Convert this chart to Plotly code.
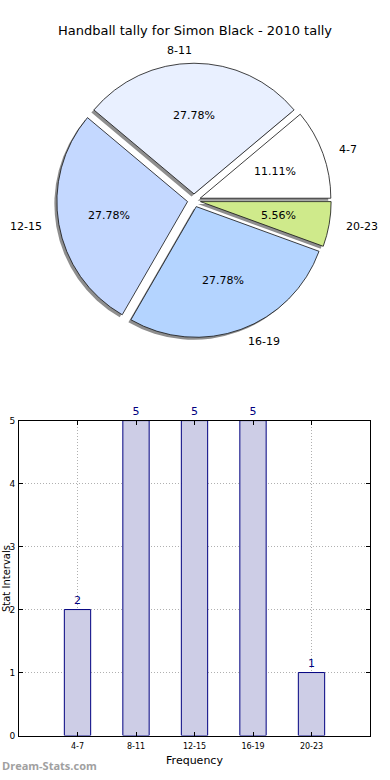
import math
import plotly.graph_objects as go

W, H = 390, 780
FONT = "DejaVu Sans"

chart_title = "Handball tally for Simon Black - 2010 tally"
categories = ["4-7", "8-11", "12-15", "16-19", "20-23"]
counts = [2, 5, 5, 5, 1]
slice_colors = ["#ffffff", "#e9f0ff", "#c4d8ff", "#b4d4ff", "#cfea8b"]
explode = 0.05
x_title = "Frequency"
y_title = "Stat Intervals"
watermark = "Dream-Stats.com"


def px_x(x):
    return x / W


def px_y(y):
    return 1 - y / H


# pie geometry in window pixels (centre and total radius including pull)
PCX, PCY, PR = 194, 198, 139
SHADOW_DX, SHADOW_DY = -2.5, 2.5


def pie_domain(dx=0.0, dy=0.0):
    cx, cy = PCX + dx, PCY + dy
    return dict(x=[px_x(cx - PR), px_x(cx + PR)], y=[px_y(cy + PR), px_y(cy - PR)])


total = sum(counts)
# plotly puts the first slice clockwise of `rotation` when counterclockwise;
# start the first slice at 3 o'clock going counterclockwise (like matplotlib)
rotation = 90 - 360 * counts[0] / total

fig = go.Figure()

# shadow
fig.add_trace(go.Pie(
    values=counts, labels=categories, sort=False, direction="counterclockwise",
    rotation=rotation, pull=[explode] * len(counts),
    marker=dict(colors=["#8e8e8e"] * len(counts), line=dict(width=0)),
    textinfo="none", hoverinfo="skip", showlegend=False,
    domain=pie_domain(SHADOW_DX, SHADOW_DY),
))
# main pie
fig.add_trace(go.Pie(
    values=counts, labels=categories, sort=False, direction="counterclockwise",
    rotation=rotation, pull=[explode] * len(counts),
    marker=dict(colors=slice_colors, line=dict(color="#111111", width=0.8)),
    textinfo="none", showlegend=False,
    domain=pie_domain(),
))

annotations = []
r = PR / (1 + explode)
cum = 0.0
for cat, v in zip(categories, counts):
    frac = v / total
    mid = math.radians(360 * (cum + frac / 2))
    cum += frac
    c, s = math.cos(mid), math.sin(mid)
    pcx = PCX + explode * r * c
    pcy = PCY - explode * r * s
    tx, ty = pcx + 0.6 * r * c, pcy - 0.6 * r * s
    annotations.append(dict(x=px_x(tx), y=px_y(ty), xref="paper", yref="paper",
                            text=f"{100 * frac:.2f}%", showarrow=False,
                            xanchor="center", yanchor="middle",
                            font=dict(family=FONT, size=11, color="#000000")))
    lx, ly = pcx + 1.1 * r * c, pcy - 1.1 * r * s
    annotations.append(dict(x=px_x(lx), y=px_y(ly), xref="paper", yref="paper",
                            text=cat, showarrow=False,
                            xanchor="left" if c > 1e-6 else "right", yanchor="middle",
                            font=dict(family=FONT, size=11, color="#000000")))

# bar chart
fig.add_trace(go.Bar(
    x=categories, y=counts, width=0.45,
    marker=dict(color="#cdcde6", line=dict(color="#000080", width=1)),
    text=[str(v) for v in counts], textposition="outside", cliponaxis=False,
    textfont=dict(family=FONT, size=11, color="#000080"),
    hoverinfo="skip", showlegend=False, xaxis="x", yaxis="y",
))

annotations.append(dict(x=0, y=px_y(770), xref="paper", yref="paper",
                        text=f"<b>{watermark}</b>",
                        showarrow=False, xanchor="left", yanchor="middle",
                        font=dict(family="Open Sans", size=11, color="#a0a0a0")))
annotations.append(dict(x=px_x(6.5), y=px_y(581), xref="paper", yref="paper",
                        text=y_title, textangle=-90,
                        showarrow=False, xanchor="center", yanchor="middle",
                        font=dict(family=FONT, size=10, color="#000000")))

axis_common = dict(
    showgrid=True, gridcolor="#b0b0b0", griddash="1px,2px", gridwidth=1,
    showline=True, linecolor="#000000", linewidth=1, mirror="ticks",
    ticks="inside", ticklen=4, tickcolor="#000000", zeroline=False,
)

fig.update_layout(
    width=W, height=H,
    margin=dict(l=0, r=0, t=0, b=0),
    paper_bgcolor="#ffffff", plot_bgcolor="#ffffff",
    font=dict(family=FONT, color="#000000"),
    title=dict(text=chart_title, x=px_x(195), xanchor="center", y=px_y(30), yanchor="middle",
               font=dict(family=FONT, size=13, color="#000000")),
    xaxis=dict(domain=[px_x(19), px_x(370)], type="category", range=[-1, 5],
               tickfont=dict(size=8, color="#000000"), ticklabelstandoff=3,
               title=dict(text=x_title, font=dict(size=11), standoff=6),
               **axis_common),
    yaxis=dict(domain=[px_y(740), px_y(421)], range=[0, 5], dtick=1,
               tickfont=dict(size=9, color="#000000"), ticklabelstandoff=1,
               **axis_common),
    annotations=annotations,
    showlegend=False,
)

# remove the browser's default 8px body margin so the 390x780 figure fills the window
fig.write_html("out.html", config={"displayModeBar": False},
               post_script="document.body.style.margin='0px';")
